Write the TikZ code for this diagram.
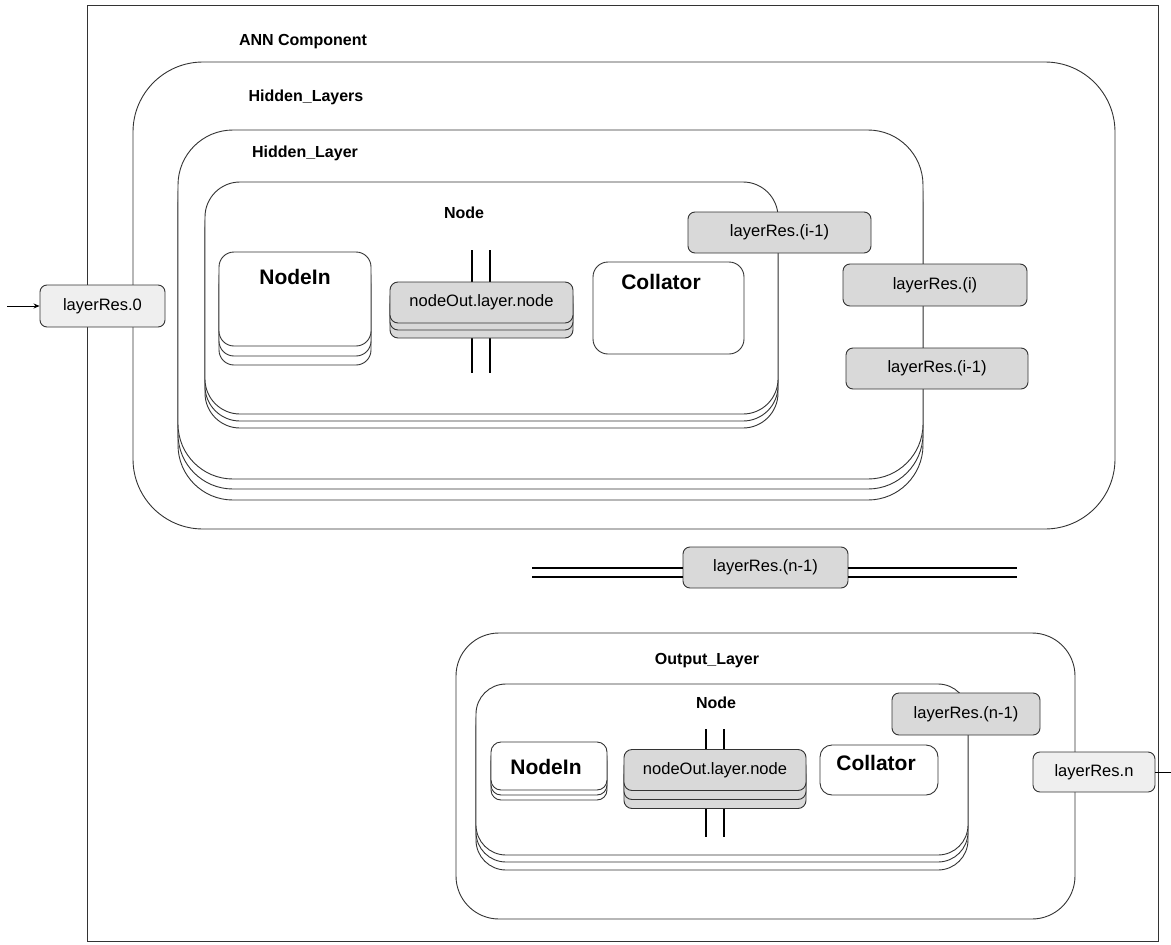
\documentclass[tikz,border=0pt]{standalone}
\usepackage{fontspec}
\setmainfont{Liberation Sans}
\usetikzlibrary{arrows.meta}
\definecolor{edge}{HTML}{333333}
\definecolor{resfill}{HTML}{D9D9D9}
\definecolor{portfill}{HTML}{EFEFEF}
\begin{document}
\begin{tikzpicture}[x=1pt,y=-1pt,
  container/.style={draw=edge,fill=white,line width=0.9pt,inner sep=0pt,rectangle},
  title/.style={font=\fontsize{16}{18}\selectfont\bfseries,inner sep=0pt},
  bigtitle/.style={font=\fontsize{21}{24}\selectfont\bfseries,inner sep=0pt},
  reslabel/.style={draw=edge,fill=resfill,rounded corners=7pt,line width=0.9pt,
    font=\fontsize{16.5}{19}\selectfont,inner sep=0pt},
  portlabel/.style={reslabel,fill=portfill},
  bus/.style={line width=2.8pt,black},
  wire/.style={draw=black,line width=0.8pt}]
\useasboundingbox (0,0) rectangle (1171,945);

% ANN component frame
\node[container,minimum width=1071,minimum height=936] (ann) at (622.5,473) {};
\node[title] (annT) at (303,42) {ANN Component};

% Hidden_Layers
\node[container,rounded corners=70pt,minimum width=982,minimum height=467] (hls) at (624,295.5) {};
\node[title] (hlsT) at (306,97) {Hidden\_Layers};

% Hidden_Layer stack (three copies)
\foreach \d in {21,10} {
  \node[container,rounded corners=55pt,minimum width=745,minimum height=349] at (550.5,304.5+\d) {};
}
\node[container,rounded corners=55pt,minimum width=745,minimum height=349] (hl) at (550.5,304.5) {};
\node[title] (hlT) at (305,153) {Hidden\_Layer};

% Node stack
\foreach \d in {14,7} {
  \node[container,rounded corners=35pt,minimum width=573,minimum height=232] at (491.5,298+\d) {};
}
\node[container,rounded corners=35pt,minimum width=573,minimum height=232] (nd) at (491.5,298) {};
\node[title] (ndT) at (464,213) {Node};

% NodeIn stack
\foreach \d in {19,10} {
  \node[container,rounded corners=15pt,minimum width=152,minimum height=94] at (295,299+\d) {};
}
\node[container,rounded corners=15pt,minimum width=152,minimum height=94] (nin) at (295,299) {};
\node[bigtitle] (ninT) at (295,277) {NodeIn};

% nodeOut bus crossing
\coordinate (bA1) at (472,250); \coordinate (bA2) at (472,373);
\coordinate (bB1) at (490,250); \coordinate (bB2) at (490,373);
\draw[bus] (bA1) -- (bA2);
\draw[bus] (bB1) -- (bB2);
\foreach \d in {15,7} {
  \node[container,fill=resfill,rounded corners=8pt,minimum width=183,minimum height=41] at (481.5,302.5+\d) {};
}
\node[container,fill=resfill,rounded corners=8pt,minimum width=183,minimum height=41,
  font=\fontsize{16.5}{19}\selectfont] (nout) at (481.5,302.5) {nodeOut.layer.node};

% Collator
\node[container,rounded corners=15pt,minimum width=151,minimum height=92] (col) at (668.5,308) {};
\node[bigtitle] (colT) at (661,282) {Collator};

% layer results
\node[reslabel,minimum width=183,minimum height=41] (rA) at (779.5,232.5) {layerRes.(i-1)};
\node[reslabel,minimum width=184,minimum height=42] (rB) at (935,285) {layerRes.(i)};
\node[reslabel,minimum width=182,minimum height=41] (rC) at (937,368.5) {layerRes.(i-1)};

% input port
\coordinate (inS) at (7,306);
\node[portlabel,minimum width=125,minimum height=42] (r0) at (102.5,306) {layerRes.0};
\draw[wire,-{Stealth[length=6pt,width=5pt]}] (inS) -- (r0.west);

% bus between layers
\node[reslabel,minimum width=165,minimum height=41] (rN1) at (765.5,567.5) {layerRes.(n-1)};
\coordinate (mL) at (532,568); \coordinate (mL2) at (532,577);
\coordinate (mR) at (1017,568); \coordinate (mR2) at (1017,577);
\draw[bus] (mL) -- (mL -| rN1.west);
\draw[bus] (mL2) -- (mL2 -| rN1.west);
\draw[bus] (mR -| rN1.east) -- (mR);
\draw[bus] (mR2 -| rN1.east) -- (mR2);

% Output_Layer
\node[container,rounded corners=43pt,minimum width=619,minimum height=286] (ol) at (765.5,776) {};
\node[title] (olT) at (707,661) {Output\_Layer};

% output Node stack
\foreach \d in {15,7} {
  \node[container,rounded corners=30pt,minimum width=492,minimum height=171] at (722,769.5+\d) {};
}
\node[container,rounded corners=30pt,minimum width=492,minimum height=171] (ond) at (722,769.5) {};
\node[title] (ondT) at (716,703) {Node};

% output NodeIn stack
\foreach \d in {10,5} {
  \node[container,rounded corners=10pt,minimum width=116,minimum height=48] at (549,766+\d) {};
}
\node[container,rounded corners=10pt,minimum width=116,minimum height=48] (onin) at (549,766) {};
\node[bigtitle] (oninT) at (546,767) {NodeIn};

% output nodeOut bus crossing
\coordinate (oA1) at (706,729); \coordinate (oA2) at (706,837);
\coordinate (oB1) at (724,729); \coordinate (oB2) at (724,837);
\draw[bus] (oA1) -- (oA2);
\draw[bus] (oB1) -- (oB2);
\foreach \d in {18,9} {
  \node[container,fill=resfill,rounded corners=8pt,minimum width=182,minimum height=41] at (715,770+\d) {};
}
\node[container,fill=resfill,rounded corners=8pt,minimum width=182,minimum height=41,
  font=\fontsize{16.5}{19}\selectfont] (onout) at (715,770) {nodeOut.layer.node};

% output Collator
\node[container,rounded corners=12pt,minimum width=118,minimum height=50] (ocol) at (879,770) {};
\node[bigtitle] (ocolT) at (876,763) {Collator};

\node[reslabel,minimum width=148,minimum height=42] (oRN1) at (966,714) {layerRes.(n-1)};

% output port
\node[portlabel,minimum width=122,minimum height=40] (rn) at (1094,772) {layerRes.n};
\coordinate (outE) at (1171,772);
\draw[wire] (rn.east) -- (outE);
\end{tikzpicture}
\end{document}
